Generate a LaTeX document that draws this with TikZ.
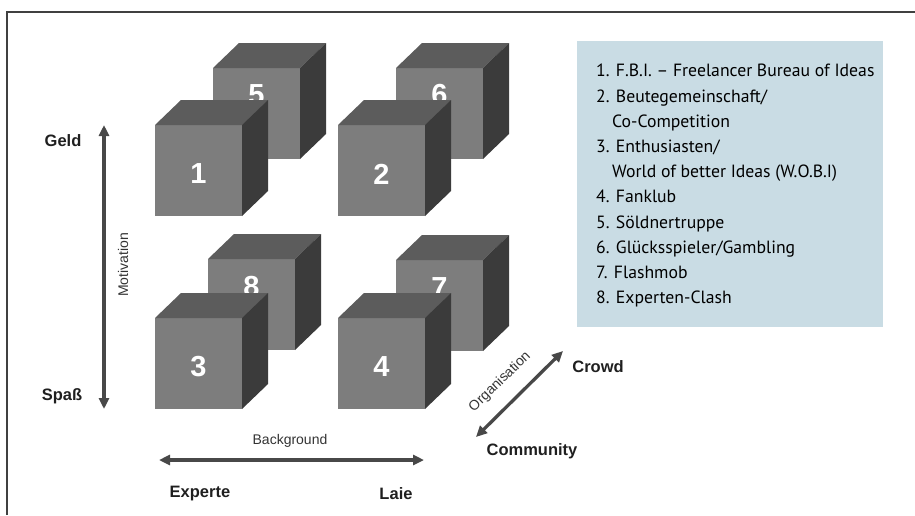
\documentclass[tikz,border=0pt]{standalone}
\usepackage{fontspec}
\setmainfont{PT Sans}
\setsansfont{Liberation Sans}
\usepackage{xcolor}
\usepackage{tikz}
\usetikzlibrary{arrows.meta}

\definecolor{legendbg}{RGB}{201,220,228}
\definecolor{axisgray}{RGB}{72,72,72}

\tikzset{
  cubefront/.style={fill=black!51},
  cubetop/.style={fill=black!64},
  cubeside/.style={fill=black!77},
  cubenum/.style={text=white,font=\sffamily\bfseries\fontsize{29}{30}\selectfont,inner sep=0pt},
  axis/.style={line width=3.3pt,draw=axisgray,{Triangle[length=11pt,width=10pt]}-{Triangle[length=11pt,width=10pt]}},
  boldlab/.style={font=\sffamily\bfseries\fontsize{16.5}{18}\selectfont,text=black!88,inner sep=0pt},
  axlab/.style={font=\sffamily\fontsize{14}{16}\selectfont,text=black!80,inner sep=0pt}
}

% #1,#2 top left of front face, #3 number, #4 how far down the number sits
\newcommand{\cubeblock}[4]{%
  \fill[cubefront] (#1,#2) rectangle ++(87,91);
  \fill[cubetop] (#1,#2) -- ++(26,-25) -- ++(87,0) -- ++(-26,25) -- cycle;
  \fill[cubeside] (#1+87,#2) -- ++(26,-25) -- ++(0,91) -- ++(-26,25) -- cycle;
  \node[cubenum] (num#3) at (#1+43.5,#2+#4) {#3};
}

\begin{document}
\begin{tikzpicture}[x=1pt,y=-1pt]
\useasboundingbox (0,0) rectangle (915,515);
\draw[line width=1.6pt,black!75] (7,515) -- (7,12) -- (915,12);

% back row
\cubeblock{213}{68}{5}{27}
\cubeblock{396}{68}{6}{27}
\cubeblock{208}{259}{8}{28}
\cubeblock{396}{260}{7}{28}
% front row
\cubeblock{155}{125}{1}{49}
\cubeblock{338}{125}{2}{49}
\cubeblock{155}{318}{3}{49}
\cubeblock{338}{318}{4}{49}

% legend
\fill[legendbg] (577,41) rectangle (883,327);
\node[anchor=north west,inner sep=0pt,align=left,font=\fontsize{17.7}{25.2}\selectfont] (legend) at (596,64)
  {1. F.B.I. -- Freelancer Bureau of Ideas\\
   2. Beutegemeinschaft/\\
   \hspace*{16pt}Co-Competition\\
   3. Enthusiasten/\\
   \hspace*{16pt}World of better Ideas (W.O.B.I)\\
   4. Fanklub\\
   5. Söldnertruppe\\
   6. Glücksspieler/Gambling\\
   7. Flashmob\\
   8. Experten-Clash};

% axes
\coordinate (mtop) at (104,125);
\coordinate (mbot) at (104,409);
\coordinate (bleft) at (159,460);
\coordinate (bright) at (424,460);
\coordinate (ocom) at (476,437);
\coordinate (ocrowd) at (563,351);
\draw[axis] (mtop) -- (mbot);
\draw[axis] (bleft) -- (bright);
\draw[axis] (ocom) -- (ocrowd);

\node[boldlab] (geld) at (63,141) {Geld};
\node[boldlab] (spass) at (62,396) {Spaß};
\node[axlab,rotate=90] (motiv) at (123,265) {Motivation};
\node[axlab] (backgr) at (290,441) {Background};
\node[boldlab] (experte) at (200,494) {Experte};
\node[boldlab] (laie) at (396,494) {Laie};
\node[axlab,rotate=44] (orga) at (500,382) {Organisation};
\node[boldlab] (crowd) at (598,367) {Crowd};
\node[boldlab] (commun) at (532,451) {Community};
\end{tikzpicture}
\end{document}
